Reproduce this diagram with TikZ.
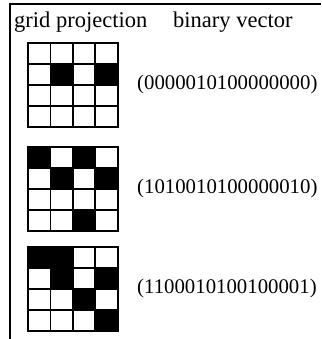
\documentclass[tikz,border=0pt]{standalone}
\usepackage{fontspec}
\setmainfont{Liberation Serif}
\newcommand\drawgrid[3]{%
  \foreach \v [count=\i from 0] in {#3} {
    \pgfmathtruncatemacro\rw{div(\i,4)}
    \pgfmathtruncatemacro\cl{mod(\i,4)}
    \ifnum\v=1 \def\fc{black}\else\def\fc{white}\fi
    \node[cell, fill=\fc] (#1-\i) at ({28+22.4*\cl},{#2+21*\rw}) {};
  }}
\begin{document}
\begin{tikzpicture}[x=1pt,y=-1pt,
  cell/.style={draw=black,line width=1.8pt,minimum width=22.4pt,minimum height=21pt,inner sep=0pt,outer sep=0pt,anchor=north west},
  head/.style={font=\fontsize{22.5}{24}\selectfont,anchor=base west,inner sep=0pt},
  vec/.style={font=\fontsize{20.8}{22}\selectfont,anchor=west,inner sep=0pt},
  frame/.style={line width=1.5pt}]
\useasboundingbox (0,0) rectangle (321,339);
\coordinate (fb) at (10,339);
\coordinate (fc) at (10,4);
\coordinate (fr) at (321,4);
\draw[frame] (fb) -- (fc) -- (fr);
\node[head] (h1) at (14,28) {grid projection};
\node[head] (h2) at (173,28) {binary vector};
\drawgrid{ga}{43}{0,0,0,0, 0,1,0,1, 0,0,0,0, 0,0,0,0}
\drawgrid{gb}{147}{1,0,1,0, 0,1,0,1, 0,0,0,0, 0,0,1,0}
\drawgrid{gc}{247}{1,1,0,0, 0,1,0,1, 0,0,1,0, 0,0,0,1}
\node[vec] (va) at (137,84) {(0000010100000000)};
\node[vec] (vb) at (137,188) {(1010010100000010)};
\node[vec] (vc) at (137,288) {(1100010100100001)};
\end{tikzpicture}
\end{document}
